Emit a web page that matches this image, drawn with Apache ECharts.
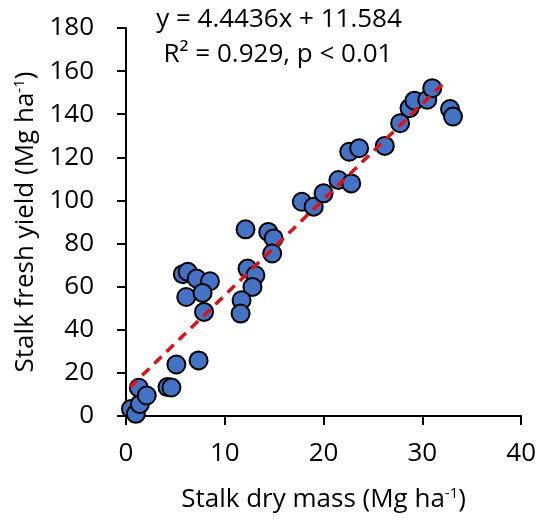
<!DOCTYPE html>
<html>
<head>
<meta charset="utf-8">
<script src="https://cdn.jsdelivr.net/npm/echarts@6/dist/echarts.min.js"></script>
<style>
html,body{margin:0;padding:0;background:#fff;}
#chart{width:539px;height:521px;}
</style>
</head>
<body>
<div id="chart"></div>
<script>
// Data
var dryMass = [0.5, 1.0, 1.4, 1.3, 2.1, 4.2, 4.6, 5.1, 7.35,
  5.75, 6.25, 7.15, 8.5, 6.1, 7.75, 7.9,
  12.1, 14.4, 14.95, 14.8, 12.3, 13.1, 12.8, 11.7, 11.6,
  17.8, 19.0, 20.0, 21.5, 22.8, 22.6, 23.6, 26.2,
  27.75, 28.7, 29.2, 30.5, 31.0, 32.8, 33.1];
var freshYield = [3.3, 1.0, 5.5, 13.1, 9.5, 13.4, 13.2, 23.9, 25.8,
  65.8, 66.9, 63.8, 62.5, 55.2, 57.1, 48.3,
  86.6, 85.4, 82.4, 75.4, 68.4, 65.3, 59.9, 53.7, 47.5,
  99.4, 97.1, 103.3, 109.5, 107.9, 122.6, 124.2, 125.3,
  135.8, 142.8, 146.3, 146.7, 152.1, 142.4, 138.9];
var trendSlope = 4.4436;
var trendIntercept = 11.584;
var trendRange = [0.4, 32.1];
var xTicks = [0, 10, 20, 30, 40];
var yTicks = [0, 20, 40, 60, 80, 100, 120, 140, 160, 180];
var eqText = 'y = 4.4436x + 11.584';
var r2Text = 'R\u00B2 = 0.929, p < 0.01';
var xTitle = 'Stalk dry mass (Mg ha{sup|-1})';
var yTitle = 'Stalk fresh yield (Mg ha{sup|-1})';

var FONT = 'Open Sans';
var FS = 26;

var points = dryMass.map(function (x, i) { return [x, freshYield[i]]; });
var trend = trendRange.map(function (x) { return [x, trendSlope * x + trendIntercept]; });

var chart = echarts.init(document.getElementById('chart'), null, {renderer: 'canvas'});
var axisCommon = {
  axisLine: {show: true, onZero: false, lineStyle: {color: '#000', width: 2}},
  axisTick: {show: true, inside: false, length: 9, lineStyle: {color: '#000', width: 2}},
  splitLine: {show: false},
  nameLocation: 'middle',
  nameTextStyle: {fontFamily: FONT, fontSize: FS, color: '#000',
    rich: {sup: {fontFamily: FONT, fontSize: 15, color: '#000', verticalAlign: 'top', padding: [0, 0, 12, 0]}}}
};
chart.setOption({
  animation: false,
  grid: {left: 126, right: 14, top: 28, bottom: 105, containLabel: false},
  xAxis: Object.assign({}, axisCommon, {
    type: 'value', min: xTicks[0], max: xTicks[xTicks.length - 1], interval: xTicks[1] - xTicks[0],
    name: xTitle, nameGap: 70,
    axisLabel: {fontFamily: FONT, fontSize: FS, color: '#000', margin: 25}
  }),
  yAxis: Object.assign({}, axisCommon, {
    type: 'value', min: yTicks[0], max: yTicks[yTicks.length - 1], interval: yTicks[1] - yTicks[0],
    name: yTitle, nameGap: 86, nameRotate: 90,
    axisLabel: {fontFamily: FONT, fontSize: FS, color: '#000', margin: 32}
  }),
  graphic: [
    {type: 'text', x: 279, y: 20, style: {text: eqText, fontFamily: FONT, fontSize: FS, fill: '#000', align: 'center', verticalAlign: 'middle'}},
    {type: 'text', x: 278, y: 55, style: {text: r2Text, fontFamily: FONT, fontSize: FS, fill: '#000', align: 'center', verticalAlign: 'middle'}}
  ],
  series: [
    {
      type: 'scatter', data: points, symbol: 'circle', symbolSize: 18, z: 2,
      itemStyle: {color: '#4472C4', borderColor: '#000', borderWidth: 2, opacity: 1}
    },
    {
      type: 'line', data: trend, symbol: 'none', z: 3,
      lineStyle: {color: '#D9121B', width: 3.5, type: [10, 7]}
    }
  ]
});
</script>
</body>
</html>
